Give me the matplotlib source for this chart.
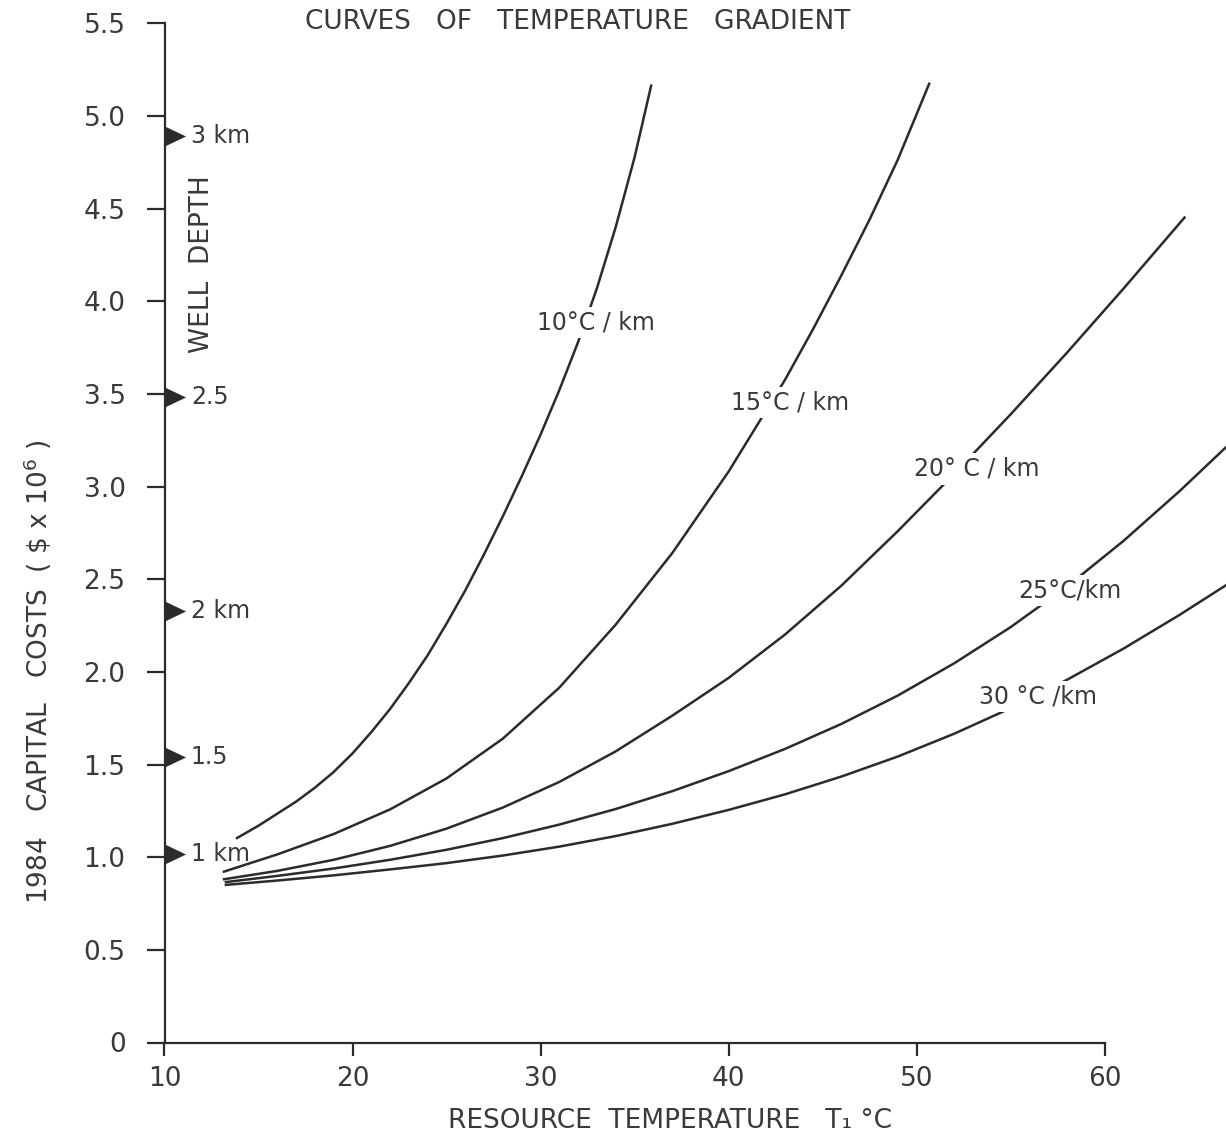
import matplotlib
matplotlib.use("Agg")
import matplotlib.pyplot as plt
from matplotlib.path import Path

# ---------------- data ----------------
grad_labels = ["10°C / km", "15°C / km", "20° C / km", "25°C/km", "30 °C /km"]

t10 = [13.8, 15.0, 16.0, 17.0, 18.0, 19.0, 20.0, 21.0, 22.0, 23.0, 24.0, 25.0, 26.0, 27.0,
       28.0, 29.0, 30.0, 31.0, 32.0, 33.0, 34.0, 35.0, 35.9]
c10 = [1.10, 1.17, 1.235, 1.30, 1.375, 1.46, 1.56, 1.675, 1.80, 1.94, 2.09, 2.26, 2.44, 2.635,
       2.84, 3.055, 3.28, 3.52, 3.78, 4.07, 4.40, 4.775, 5.17]

t15 = [13.1, 16.0, 19.0, 22.0, 25.0, 28.0, 31.0, 34.0, 37.0, 40.0, 43.0, 44.5, 46.0, 47.5, 49.0, 50.7]
c15 = [0.92, 1.015, 1.125, 1.258, 1.425, 1.64, 1.915, 2.255, 2.64, 3.08, 3.575, 3.85, 4.139, 4.44, 4.763, 5.18]

t20 = [13.1, 16.0, 19.0, 22.0, 25.0, 28.0, 31.0, 34.0, 37.0, 40.0, 43.0, 46.0, 49.0, 52.0, 55.0, 58.0, 61.0, 64.3]
c20 = [0.88, 0.926, 0.986, 1.061, 1.154, 1.268, 1.406, 1.571, 1.763, 1.967, 2.201, 2.465, 2.759, 3.068, 3.389, 3.722, 4.067, 4.457]

t25 = [13.2, 16.0, 19.0, 22.0, 25.0, 28.0, 31.0, 34.0, 37.0, 40.0, 43.0, 46.0, 49.0, 52.0, 55.0, 58.0, 61.0, 64.0, 66.5]
c25 = [0.865, 0.899, 0.939, 0.986, 1.040, 1.103, 1.176, 1.260, 1.356, 1.464, 1.584, 1.719, 1.872, 2.046, 2.241, 2.46, 2.706, 2.976, 3.216]

t30 = [13.2, 16.0, 19.0, 22.0, 25.0, 28.0, 31.0, 34.0, 37.0, 40.0, 43.0, 46.0, 49.0, 52.0, 55.0, 58.0, 61.0, 64.0, 66.5]
c30 = [0.85, 0.874, 0.902, 0.934, 0.968, 1.009, 1.057, 1.114, 1.180, 1.255, 1.339, 1.435, 1.543, 1.666, 1.804, 1.957, 2.125, 2.308, 2.470]

label_t = [32.94, 43.27, 53.22, 58.17, 56.47]
label_c = [3.883, 3.452, 3.095, 2.437, 1.865]

depth_labels = ["1 km", "1.5", "2 km", "2.5", "3 km"]
depth_costs = [1.017, 1.539, 2.330, 3.485, 4.892]

x_ticks = [10, 20, 30, 40, 50, 60]
y_ticks = [0, 0.5, 1.0, 1.5, 2.0, 2.5, 3.0, 3.5, 4.0, 4.5, 5.0, 5.5]
y_ticklabels = ["0", "0.5", "1.0", "1.5", "2.0", "2.5", "3.0", "3.5", "4.0", "4.5", "5.0", "5.5"]

# ---------------- figure ----------------
plt.rcParams["font.family"] = ["DejaVu Sans"]
INK = "#2b2b2b"
TXT = "#3a3a3a"
FS = 17     # curve and depth labels
FSB = 19    # ticks, axis titles

fig = plt.figure(figsize=(12.26, 11.40), dpi=100)
ax = fig.add_axes([164.5 / 1226, (1140 - 1042.5) / 1140, 1061.5 / 1226, 1019.2 / 1140])
ax.set_xlim(10, 10 + 1061.5 / 18.8)
ax.set_ylim(0, 5.5)

curves = [(t10, c10), (t15, c15), (t20, c20), (t25, c25), (t30, c30)]
for (t, c) in curves:
    ax.plot(t, c, color=INK, lw=1.8, solid_capstyle="butt", solid_joinstyle="round", zorder=2)

for lab, lt, lc in zip(grad_labels, label_t, label_c):
    ax.text(lt, lc, lab, fontsize=FS, color=TXT, ha="center", va="center", zorder=4,
            bbox=dict(boxstyle="square,pad=0.15", fc="white", ec="none"))

# well depth markers (right-pointing triangles sitting on the axis)
tri = Path([(0, -0.5), (1.05, 0), (0, 0.5), (0, -0.5)],
           [Path.MOVETO, Path.LINETO, Path.LINETO, Path.CLOSEPOLY])
ax.plot([10] * len(depth_costs), depth_costs, linestyle="none", marker=tri,
        markersize=31, color=INK, markeredgewidth=0, clip_on=False, zorder=5)
for lab, dc in zip(depth_labels, depth_costs):
    ax.annotate(lab, (10, dc), xytext=(19, 0), textcoords="offset points",
                fontsize=FS, color=TXT, ha="left", va="center", annotation_clip=False)

fig.text(202 / 1226, 1 - 264 / 1140, "WELL  DEPTH", rotation=90, fontsize=FSB,
         color=TXT, ha="center", va="center")

# spines and ticks
for s in ["top", "right"]:
    ax.spines[s].set_visible(False)
ax.spines["left"].set_bounds(0, 5.5)
ax.spines["bottom"].set_bounds(10, 60)
for s in ["left", "bottom"]:
    ax.spines[s].set_linewidth(1.6)
    ax.spines[s].set_color(INK)

ax.set_xticks(x_ticks)
ax.set_xticklabels([str(v) for v in x_ticks])
ax.set_yticks(y_ticks)
ax.set_yticklabels(y_ticklabels)
ax.tick_params(axis="y", direction="out", length=13, width=1.6, pad=15,
               labelsize=FSB, colors=INK, labelcolor=TXT)
ax.tick_params(axis="x", direction="out", length=9, width=1.6, pad=8,
               labelsize=FSB, colors=INK, labelcolor=TXT)

fig.text(578 / 1226, 1 - 22 / 1140, "CURVES   OF   TEMPERATURE   GRADIENT",
         fontsize=FSB, color=TXT, ha="center", va="center")
fig.text(670 / 1226, 1 - 1121 / 1140, "RESOURCE  TEMPERATURE   T\u2081 °C",
         fontsize=FSB, color=TXT, ha="center", va="center")
fig.text(38 / 1226, 1 - 672 / 1140, r"1984   CAPITAL   COSTS  ( \$ x 10$^{6}$ )",
         fontsize=FSB, color=TXT, ha="center", va="center", rotation=90)

fig.savefig("out.png", dpi=100, facecolor="white")
